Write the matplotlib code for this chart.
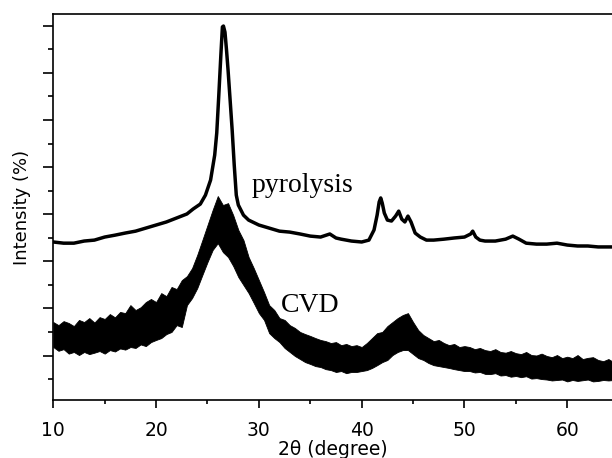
import matplotlib
matplotlib.use("Agg")
import numpy as np
import matplotlib.pyplot as plt
from matplotlib.ticker import FixedLocator, MultipleLocator

# pyrolysis pattern (2theta, intensity in arb. units, one tick = 1)
pyro_x = [10.0, 11.0, 12.0, 13.0, 14.0, 15.0, 16.0, 17.0, 18.0, 19.0, 20.0, 21.0, 22.0, 23.0,
          23.6, 24.3, 24.8, 25.3, 25.7, 25.9, 26.1, 26.3, 26.45, 26.55, 26.7, 26.85, 27.0, 27.2,
          27.4, 27.6, 27.8, 28.0, 28.5, 29.0, 30.0, 31.0, 32.0, 33.0, 34.0, 35.0, 36.0, 36.9,
          37.5, 38.0, 39.0, 40.0, 40.7, 41.2, 41.5, 41.7, 41.85, 42.0, 42.2, 42.5, 42.9, 43.3,
          43.6, 43.9, 44.2, 44.5, 44.8, 45.2, 45.7, 46.3, 47.0, 48.0, 49.0, 50.0, 50.6, 50.8,
          51.1, 51.5, 52.0, 53.0, 54.0, 54.7, 55.3, 56.0, 57.0, 58.0, 59.0, 60.0, 61.0, 62.0,
          63.0, 64.4]
pyro_y = [5.82, 5.77, 5.77, 5.86, 5.90, 6.03, 6.11, 6.20, 6.28, 6.41, 6.54, 6.67, 6.84, 7.01,
          7.22, 7.43, 7.81, 8.45, 9.51, 10.45, 12.06, 13.76, 14.95, 14.99, 14.73, 13.97, 13.12, 11.85,
          10.57, 9.09, 7.81, 7.39, 6.96, 6.75, 6.54, 6.41, 6.28, 6.24, 6.16, 6.07, 6.03, 6.16,
          5.99, 5.94, 5.86, 5.82, 5.90, 6.33, 6.96, 7.52, 7.69, 7.47, 7.05, 6.75, 6.71, 6.92,
          7.13, 6.79, 6.67, 6.92, 6.67, 6.20, 6.03, 5.90, 5.90, 5.94, 5.99, 6.03, 6.16, 6.28,
          6.03, 5.90, 5.86, 5.86, 5.94, 6.07, 5.94, 5.77, 5.73, 5.73, 5.77, 5.69, 5.65, 5.65,
          5.61, 5.61]

# CVD pattern is very noisy: upper / lower edge of the noise band every 0.5 deg
cvd_x = np.arange(10, 64.6, 0.5)
cvd_hi = [2.42, 2.29, 2.46, 2.38, 2.25, 2.51, 2.42, 2.59, 2.40, 2.63,
          2.55, 2.76, 2.62, 2.85, 2.80, 3.14, 2.93, 3.05, 3.27, 3.40,
          3.27, 3.65, 3.52, 3.91, 3.82, 4.20, 4.37, 4.71, 5.27, 5.90,
          6.54, 7.18, 7.77, 7.39, 7.47, 6.96, 6.33, 5.90, 5.18, 4.71,
          4.20, 3.69, 3.14, 2.93, 2.59, 2.51, 2.29, 2.17, 2.00, 1.91,
          1.83, 1.74, 1.66, 1.61, 1.53, 1.57, 1.44, 1.49, 1.40, 1.44,
          1.36, 1.53, 1.74, 1.95, 2.00, 2.25, 2.42, 2.59, 2.72, 2.80,
          2.42, 2.08, 1.87, 1.74, 1.61, 1.66, 1.53, 1.44, 1.49, 1.36,
          1.40, 1.36, 1.27, 1.32, 1.23, 1.19, 1.27, 1.15, 1.12, 1.19,
          1.10, 1.06, 1.15, 1.02, 1.00, 1.08, 0.98, 0.93, 1.02, 0.89,
          0.95, 0.89, 1.02, 0.85, 0.90, 0.93, 0.81, 0.76, 0.85, 0.72]
cvd_lo = [1.36, 1.20, 1.27, 1.08, 1.15, 1.02, 1.15, 1.06, 1.12, 1.19,
          1.08, 1.23, 1.17, 1.30, 1.25, 1.36, 1.32, 1.47, 1.40, 1.57,
          1.66, 1.74, 1.91, 2.00, 2.29, 2.21, 3.14, 3.44, 3.86, 4.42,
          4.97, 5.48, 5.77, 5.39, 5.18, 4.80, 4.33, 3.99, 3.65, 3.23,
          2.80, 2.51, 1.95, 1.74, 1.57, 1.32, 1.15, 0.98, 0.85, 0.72,
          0.64, 0.55, 0.51, 0.42, 0.38, 0.30, 0.34, 0.25, 0.30, 0.30,
          0.34, 0.38, 0.47, 0.59, 0.72, 0.81, 1.02, 1.15, 1.23, 1.23,
          1.06, 0.89, 0.81, 0.68, 0.59, 0.55, 0.51, 0.47, 0.42, 0.38,
          0.34, 0.34, 0.28, 0.30, 0.22, 0.21, 0.25, 0.15, 0.17, 0.10,
          0.13, 0.08, 0.12, 0.02, 0.04, 0.00, -0.02, -0.06, -0.04, -0.02,
          -0.10, -0.04, -0.08, -0.05, -0.02, -0.10, -0.08, -0.04, -0.06, -0.04]

fig = plt.figure(figsize=(6.12, 4.58), dpi=100)
ax = fig.add_axes([0.0871, 0.1266, 0.9129, 0.8428])

ax.plot(pyro_x, pyro_y, color='black', lw=2.5, solid_joinstyle='round')
ax.fill_between(cvd_x, cvd_lo, cvd_hi, color='black', lw=0.6)

ax.text(29.3, 7.94, 'pyrolysis', family='Liberation Serif', fontsize=20, va='baseline')
ax.text(32.1, 2.86, 'CVD', family='Liberation Serif', fontsize=20, va='baseline')

ax.set_xlim(10, 64.35)
ax.set_ylim(-0.89, 15.5)
ax.xaxis.set_major_locator(MultipleLocator(10))
ax.xaxis.set_minor_locator(MultipleLocator(5))
ax.yaxis.set_major_locator(FixedLocator(list(range(1, 16, 2))))
ax.yaxis.set_minor_locator(FixedLocator(list(range(0, 15, 2))))
ax.set_yticklabels([])

ax.tick_params(axis='both', which='both', direction='out', width=1.2, labelsize=13.5)
ax.tick_params(axis='x', which='major', length=6, pad=9)
ax.tick_params(axis='x', which='minor', length=3)
ax.tick_params(axis='y', which='major', length=7.5)
ax.tick_params(axis='y', which='minor', length=3.8)
ax.spines['right'].set_visible(False)
for s in ['left', 'bottom', 'top']:
    ax.spines[s].set_linewidth(1.2)

ax.set_xlabel('2θ (degree)', fontsize=13.5, labelpad=0)
ax.set_ylabel('Intensity (%)', fontsize=13, labelpad=5)

plt.savefig('out.png', dpi=100)
